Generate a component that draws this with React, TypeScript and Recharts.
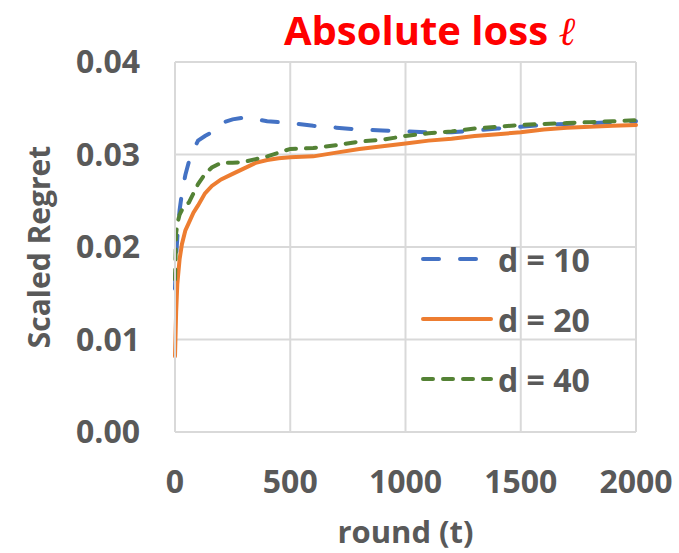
import { LineChart, Line, XAxis, YAxis, CartesianGrid, Legend } from 'recharts';

const rounds = [0, 5, 10, 20, 30, 45, 60, 80, 100, 130, 160, 200, 250, 300, 350, 400, 450, 500, 600, 700, 800, 900, 1000, 1100, 1200, 1300, 1400, 1500, 1600, 1700, 1800, 1900, 2000];

const d10 = [0.0155, 0.019, 0.021, 0.024, 0.0258, 0.0278, 0.0292, 0.0305, 0.0315, 0.032, 0.0324, 0.0334, 0.0338, 0.034, 0.0338, 0.0336, 0.0335, 0.0334, 0.0331, 0.0329, 0.0327, 0.0326, 0.0325, 0.0324, 0.0324, 0.0326, 0.0328, 0.033, 0.0332, 0.0333, 0.0334, 0.0335, 0.0336];
const d20 = [0.0082, 0.013, 0.016, 0.0187, 0.0203, 0.0218, 0.0226, 0.0237, 0.0245, 0.0258, 0.0266, 0.0273, 0.0279, 0.0285, 0.0291, 0.0294, 0.0296, 0.0297, 0.0298, 0.0302, 0.0306, 0.0309, 0.0312, 0.0315, 0.0317, 0.032, 0.0322, 0.0324, 0.0327, 0.0329, 0.033, 0.0331, 0.0332];
const d40 = [0.0165, 0.0215, 0.0225, 0.0235, 0.024, 0.0245, 0.0248, 0.0258, 0.0268, 0.0279, 0.0286, 0.0291, 0.0291, 0.0292, 0.0295, 0.0298, 0.0302, 0.0306, 0.0307, 0.031, 0.0314, 0.0316, 0.032, 0.0323, 0.0325, 0.0328, 0.033, 0.0332, 0.0333, 0.0334, 0.0335, 0.0336, 0.0337];

const xTicks = [0, 500, 1000, 1500, 2000];
const yTicks = [0, 0.01, 0.02, 0.03, 0.04];

const SERIES = [
  { key: 'd10', name: 'd = 10', color: '#4472C4', dash: '16 21' },
  { key: 'd20', name: 'd = 20', color: '#ED7D31', dash: undefined },
  { key: 'd40', name: 'd = 40', color: '#548235', dash: '10 10' },
];

const data = rounds.map((t, i) => ({ t, d10: d10[i], d20: d20[i], d40: d40[i] }));

const FONT = '"Open Sans", sans-serif';
const GRAY = '#595959';

const renderLegend = () => (
  <div>
    {SERIES.map((s) => (
      <div key={s.key} style={{ display: 'flex', alignItems: 'center', height: 60 }}>
        <svg width={80} height={10}>
          <line x1={5} y1={5} x2={73} y2={5} stroke={s.color} strokeWidth={4} strokeDasharray={s.dash} strokeLinecap="round" />
        </svg>
        <span style={{ fontFamily: FONT, fontWeight: 700, fontSize: 32, color: GRAY }}>{s.name}</span>
      </div>
    ))}
  </div>
);

const App = () => {
  return (
    <div style={{ position: 'absolute', left: 0, top: 0, width: 679, height: 553, background: '#fff' }}>
      <div
        style={{
          position: 'absolute',
          left: 0,
          width: 679,
          top: 4,
          paddingLeft: 180,
          boxSizing: 'border-box',
          textAlign: 'center',
          fontFamily: FONT,
          fontWeight: 700,
          fontSize: 40,
          color: '#FF0000',
          lineHeight: '52px',
          whiteSpace: 'nowrap',
        }}
      >
        Absolute loss <span style={{ fontFamily: '"DejaVu Serif", serif', fontStyle: 'italic', fontWeight: 400 }}>ℓ</span>
      </div>
      <LineChart width={679} height={553} data={data} margin={{ top: 62, right: 43, bottom: 0, left: 0 }}>
        <CartesianGrid stroke="#D9D9D9" strokeWidth={2} />
        <XAxis
          dataKey="t"
          type="number"
          domain={[0, 2000]}
          ticks={xTicks}
          interval={0}
          height={121}
          tickSize={0}
          tickMargin={38}
          axisLine={{ stroke: '#D9D9D9', strokeWidth: 2 }}
          tick={{ fill: GRAY, fontFamily: FONT, fontWeight: 700, fontSize: 32 }}
          label={({ viewBox }: any) => (
            <text
              x={viewBox.x + viewBox.width / 2}
              y={543}
              textAnchor="middle"
              fill={GRAY}
              fontFamily={FONT}
              fontWeight={700}
              fontSize={31}
            >
              round (t)
            </text>
          )}
        />
        <YAxis
          type="number"
          domain={[0, 0.04]}
          ticks={yTicks}
          interval={0}
          width={175}
          tickSize={0}
          tickMargin={35}
          axisLine={{ stroke: '#D9D9D9', strokeWidth: 2 }}
          tickFormatter={(v: number) => v.toFixed(2)}
          tick={{ fill: GRAY, fontFamily: FONT, fontWeight: 700, fontSize: 32 }}
          label={({ viewBox }: any) => (
            <text
              x={0}
              y={0}
              transform={`translate(50, ${viewBox.y + viewBox.height / 2}) rotate(-90)`}
              textAnchor="middle"
              fill={GRAY}
              fontFamily={FONT}
              fontWeight={700}
              fontSize={30}
            >
              Scaled Regret
            </text>
          )}
        />
        {SERIES.map((s) => (
          <Line
            key={s.key}
            type="linear"
            dataKey={s.key}
            name={s.name}
            stroke={s.color}
            strokeWidth={4}
            strokeDasharray={s.dash}
            strokeLinecap="round"
            dot={false}
            isAnimationActive={false}
          />
        ))}
        <Legend
          content={renderLegend}
          layout="horizontal"
          verticalAlign="middle"
          align="center"
          wrapperStyle={{ position: 'absolute', left: 418, top: 229, width: 200 }}
        />
      </LineChart>
    </div>
  );
};

export default App;
